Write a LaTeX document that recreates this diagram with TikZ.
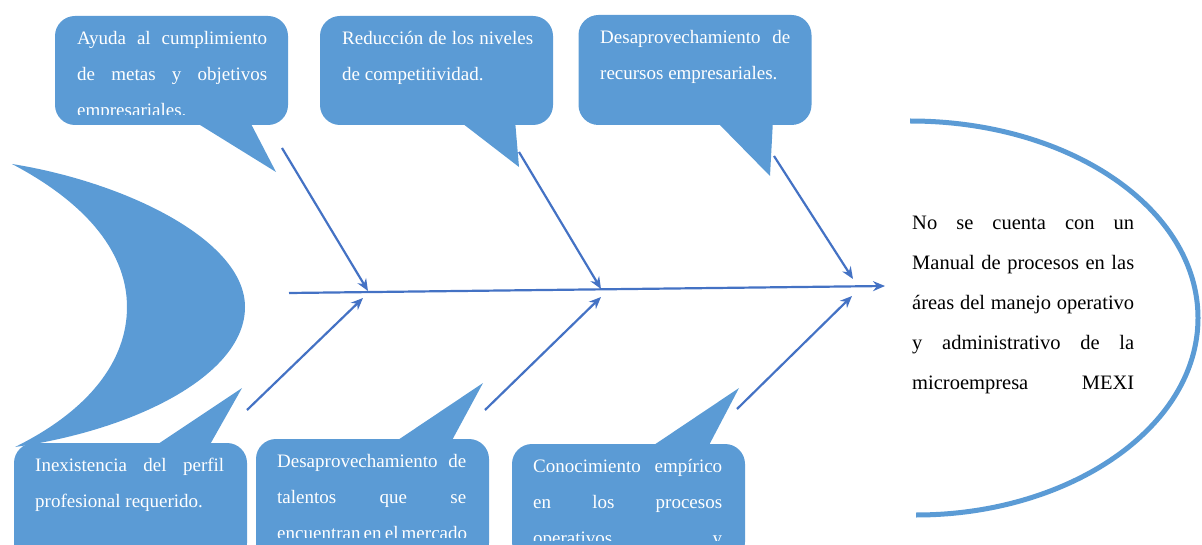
\documentclass[tikz,border=0pt]{standalone}
\usepackage{fontspec}
\setmainfont{Liberation Serif}
\usetikzlibrary{arrows.meta}

\definecolor{boxblue}{HTML}{5B9BD5}
\definecolor{bonec}{HTML}{4472C4}

\newcommand\calloutfont{\fontsize{19pt}{36pt}\selectfont}
\newcommand\headfont{\fontsize{20.5pt}{40pt}\selectfont}
\newcommand\fullline[1]{\makebox[\linewidth][s]{#1}}
\newcommand\plainline[1]{\makebox[\linewidth][l]{#1}}

\begin{document}
\begin{tikzpicture}[x=1pt,y=-1pt,
  callout/.style={fill=boxblue, rounded corners=20pt, inner sep=0pt, minimum width=233pt},
  tailfill/.style={fill=boxblue},
  calltext/.style={anchor=base west, inner sep=0pt, text=white, font=\calloutfont},
  headtext/.style={anchor=base west, inner sep=0pt, text=black, font=\headfont},
  bone/.style={draw=bonec, line width=2.2pt, -{Stealth[length=12pt,width=10pt]}},
]
\useasboundingbox (0,0) rectangle (1202,545);
\clip (0,0) rectangle (1202,545);

% fish tail (crescent)
\fill[boxblue] (12,164) .. controls (125,182) and (245,240) .. (245,307)
  .. controls (245,375) and (135,430) .. (15,447)
  .. controls (90,410) and (127,360) .. (127,307)
  .. controls (127,255) and (90,205) .. (12,164) -- cycle;

% fish head
\draw[boxblue, line width=5pt] (910,121) .. controls (1070,121) and (1198,209) .. (1198,318)
  .. controls (1198,427) and (1070,515) .. (916,515);

% callout boxes, top row
\node[callout, minimum height=109pt] (c1) at (171.5,70.5) {};
\fill[tailfill] (192,120) -- (276,172) -- (249,120) -- cycle;
\node[callout, minimum height=109pt] (c2) at (436.5,70.5) {};
\fill[tailfill] (458,120) -- (519,167) -- (515,120) -- cycle;
\node[callout, minimum height=110pt] (c3) at (695,70) {};
\fill[tailfill] (715,120) -- (770,176) -- (773,120) -- cycle;

% callout boxes, bottom row
\node[callout, minimum height=120pt] (c4) at (130.5,503) {};
\fill[tailfill] (152,448) -- (242,388) -- (208,448) -- cycle;
\node[callout, minimum height=124pt] (c5) at (372.5,501) {};
\fill[tailfill] (392,444) -- (483,383) -- (450,444) -- cycle;
\node[callout, minimum height=118pt] (c6) at (628.5,503) {};
\fill[tailfill] (648,449) -- (739,388) -- (707,449) -- cycle;

% callout texts
\begin{scope}
  \clip (55,16) rectangle (288,115);
  \node[calltext] (t1) at (77,45) {\parbox[t]{190pt}{\fullline{Ayuda al cumplimiento}\\
    \fullline{de metas y objetivos}\\ \plainline{empresariales.}}};
\end{scope}
\node[calltext] (t2) at (342,45) {\parbox[t]{191pt}{\fullline{Reducción de los niveles}\\
  \plainline{de competitividad.}}};
\node[calltext] (t3) at (600,44) {\parbox[t]{190pt}{\fullline{Desaprovechamiento de}\\
  \plainline{recursos empresariales.}}};
\node[calltext] (t4) at (35,471) {\parbox[t]{189pt}{\fullline{Inexistencia del perfil}\\
  \plainline{profesional requerido.}}};
\begin{scope}
  \clip (256,439) rectangle (489,537);
  \node[calltext] (t5) at (277,467) {\parbox[t]{189pt}{\fullline{Desaprovechamiento de}\\
    \fullline{talentos que se}\\ \fullline{encuentran en el mercado}}};
\end{scope}
\begin{scope}
  \clip (512,444) rectangle (745,540);
  \node[calltext] (t6) at (533,472) {\parbox[t]{189pt}{\fullline{Conocimiento empírico}\\
    \fullline{en los procesos}\\ \fullline{operativos y}}};
\end{scope}

% problem statement in the head
\node[headtext] (head) at (912,230) {\parbox[t]{222pt}{\fullline{No se cuenta con un}\\
  \fullline{Manual de procesos en las}\\ \fullline{áreas del manejo operativo}\\
  \fullline{y administrativo de la}\\ \fullline{microempresa MEXI}}};

% spine and bones
\coordinate (spL) at (289,293);
\coordinate (spR) at (885,286);
\draw[bone] (spL) -- (spR);

\coordinate (u1) at (282,148);  \coordinate (j1) at (368,291);
\coordinate (u2) at (519,152);  \coordinate (j2) at (601,289);
\coordinate (u3) at (774,156);  \coordinate (j3) at (853,279);
\coordinate (d1) at (247,410);  \coordinate (k1) at (363,298);
\coordinate (d2) at (485,410);  \coordinate (k2) at (601,297);
\coordinate (d3) at (737,409);  \coordinate (k3) at (852,296);

\draw[bone] (u1) -- (j1);
\draw[bone] (u2) -- (j2);
\draw[bone] (u3) -- (j3);
\draw[bone] (d1) -- (k1);
\draw[bone] (d2) -- (k2);
\draw[bone] (d3) -- (k3);
\end{tikzpicture}
\end{document}
